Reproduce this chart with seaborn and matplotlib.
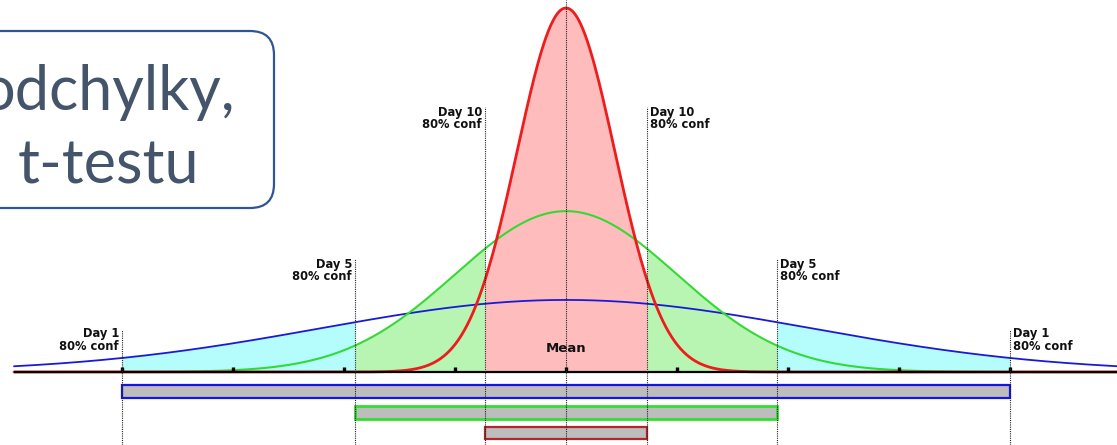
import numpy as np
import pandas as pd
import matplotlib
matplotlib.use("Agg")
import matplotlib.pyplot as plt
from matplotlib.patches import FancyBboxPatch
import seaborn as sns

# Forecast spread per horizon (x in tick units, mean at 0)
horizons = ["Day 1", "Day 5", "Day 10"]
spread = [2.21, 1.00, 0.44]          # width of each curve
peak = [0.198, 0.442, 1.0]           # relative peak height
conf80 = [4.0, 1.9, 0.73]            # half-width of the 80% interval
line_colors = ["#1a1ad6", "#35d935", "#ee1c1c"]
fill_colors = ["#b5fdfd", "#b8f5b3", "#ffbcbc"]
bar_edges = ["#1515e0", "#33dd33", "#b3262b"]
tick_positions = [-4, -3, -2, -1, 0, 1, 2, 3, 4]
title_lines = ["odchylky,", "t-testu"]

W, H = 1117, 445
X0, XU = 566.0, 111.0       # baseline origin / tick spacing
Y0, YU = 372.0, 364.0

sns.set_theme(style="white")
fig = plt.figure(figsize=(W / 100, H / 100), dpi=100)
ax = fig.add_axes([0, 0, 1, 1])
ax.set_xlim(-X0 / XU, (W - X0) / XU)
ax.set_ylim((Y0 - H) / YU, Y0 / YU)
ax.axis("off")


def curve(x, s, p):
    return p * np.exp(-0.5 * (x / s) ** 2)


xmin, xmax = (14 - X0) / XU, (W - X0) / XU
xs = np.linspace(xmin, xmax, 1500)

# shaded bands: each horizon fills only its own ring of the interval
for i in range(3):
    outer, inner = conf80[i], (conf80[i + 1] if i < 2 else 0.0)
    segs = [(-outer, -inner), (inner, outer)] if inner > 0 else [(-outer, outer)]
    for a, b in segs:
        xx = np.linspace(a, b, 300)
        ax.fill_between(xx, 0, curve(xx, spread[i], peak[i]),
                        color=fill_colors[i], lw=0, zorder=1)

# density curves
lws = [1.3, 1.5, 2.0]
for i in range(3):
    df = pd.DataFrame({"x": xs, "y": curve(xs, spread[i], peak[i])})
    sns.lineplot(data=df, x="x", y="y", color=line_colors[i], lw=lws[i],
                 ax=ax, zorder=4, legend=False)

# baseline and tick marks
ax.plot([xmin, xmax], [0, 0], color="black", lw=1.6, zorder=5,
        solid_capstyle="butt")
ax.vlines(tick_positions, 0, 5 / YU, color="black", lw=2.4, zorder=5)

# dotted markers for interval edges and the mean
tops = [(Y0 - 330) / YU, (Y0 - 259) / YU, (Y0 - 107) / YU]
bottom = (Y0 - H) / YU
for i in range(3):
    for sgn in (-1, 1):
        ax.vlines(sgn * conf80[i], bottom, tops[i], color="#222222",
                  lw=0.8, linestyles=(0, (1, 1)), zorder=6)
ax.vlines(0, bottom, Y0 / YU, color="#222222", lw=0.8,
          linestyles=(0, (1, 1)), zorder=6)

# interval labels
label_top = [(Y0 - 327) / YU, (Y0 - 258) / YU, (Y0 - 106) / YU]
dx = 3 / XU
for i in range(3):
    txt = f"{horizons[i]}\n80% conf"
    ax.text(-conf80[i] - dx, label_top[i], txt, ha="right", va="top",
            ma="right", fontsize=8.3, fontweight="bold", color="#111111",
            linespacing=0.95, zorder=7)
    ax.text(conf80[i] + dx, label_top[i], txt, ha="left", va="top",
            ma="left", fontsize=8.3, fontweight="bold", color="#111111",
            linespacing=0.95, zorder=7)
ax.text(0, (Y0 - 349) / YU, "Mean", ha="center", va="center",
        fontsize=9.5, fontweight="bold", color="#111111", zorder=7)

# interval bars below the axis
bar_y = [(Y0 - 391.5) / YU, (Y0 - 412) / YU, (Y0 - 433) / YU]
bar_h = [13 / YU, 13 / YU, 12 / YU]
bar_lw = [1.6, 2.0, 1.6]
for i in range(3):
    ax.barh(bar_y[i], 2 * conf80[i], left=-conf80[i], height=bar_h[i],
            color="#bdbdbd", edgecolor=bar_edges[i], lw=bar_lw[i], zorder=3)

# slide title box in pixel coordinates
ov = fig.add_axes([0, 0, 1, 1], facecolor="none")
ov.set_xlim(0, W)
ov.set_ylim(H, 0)
ov.axis("off")
box = FancyBboxPatch((-200, 31), 474, 177,
                     boxstyle="round,pad=0,rounding_size=24",
                     facecolor="white", edgecolor="#2f5597", lw=1.6, zorder=10)
ov.add_patch(box)
ov.text(108, 110, title_lines[0], ha="center", va="baseline",
        fontsize=44, family="Lato", color="#44546a", zorder=11)
ov.text(108, 183, title_lines[1], ha="center", va="baseline",
        fontsize=44, family="Lato", color="#44546a", zorder=11)

fig.savefig("out.png", dpi=100)
